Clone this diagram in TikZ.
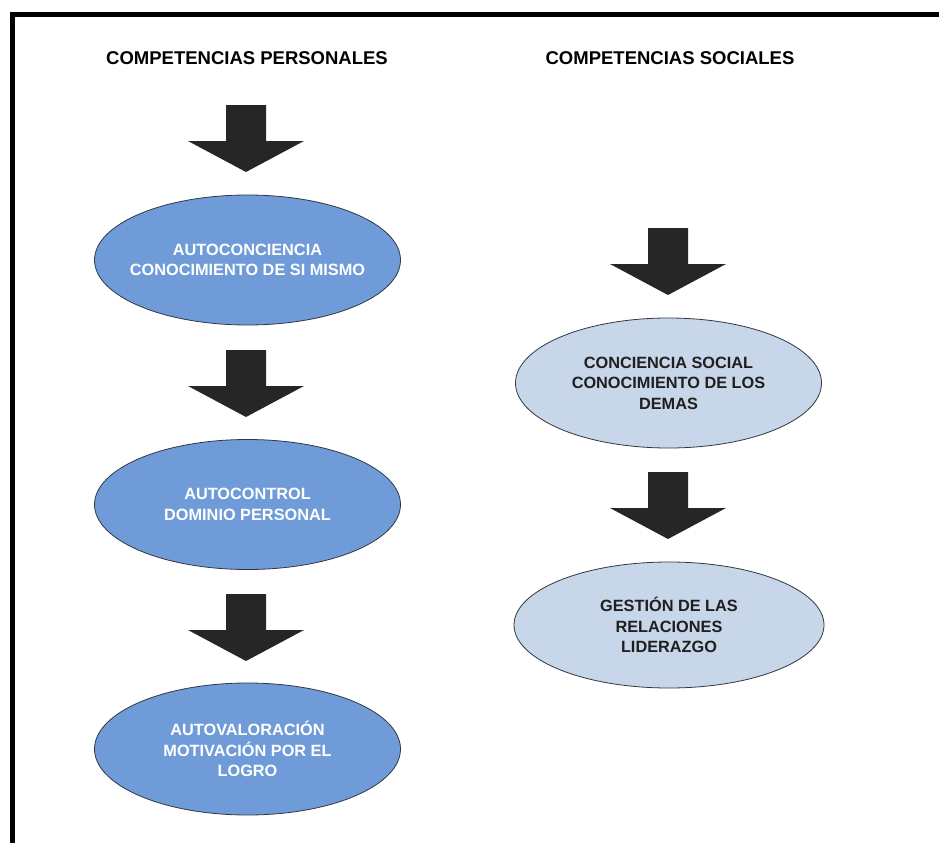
\documentclass[tikz,border=0pt]{standalone}
\usepackage{fontspec}
\setmainfont{Liberation Sans}
\usetikzlibrary{shapes.geometric}
\definecolor{darkblue}{RGB}{111,156,216}
\definecolor{lightblue}{RGB}{199,214,232}
\definecolor{arrowgray}{RGB}{38,38,38}
\definecolor{edgegray}{RGB}{50,55,65}
\tikzset{
  title/.style={font=\bfseries\fontsize{18.5}{21}\selectfont, text=black},
  oval/.style={ellipse, draw=edgegray, line width=0.8pt, minimum width=306pt, minimum height=130pt, inner xsep=-30pt, inner ysep=-20pt, align=center, font=\bfseries\fontsize{16.3}{20.5}\selectfont},
  blueoval/.style={oval, fill=darkblue, text=white},
  paleoval/.style={oval, fill=lightblue, text=black!88},
  blockarrow/.pic={\fill[arrowgray] (-20,0) -- (20,0) -- (20,36) -- (58,36) -- (0,67) -- (-58,36) -- (-20,36) -- cycle;}
}
\begin{document}
\begin{tikzpicture}[x=1pt,y=-1pt]
\useasboundingbox (0,0) rectangle (939,843);
\fill[white] (0,0) rectangle (939,843);
% frame (top and left visible)
\draw[line width=5pt, black] (12.5,843) -- (12.5,14.5) -- (939,14.5);
% titles
\node[title] (tp) at (247,58) {COMPETENCIAS PERSONALES};
\node[title] (ts) at (670,58) {COMPETENCIAS SOCIALES};
% left column
\pic (a1) at (246,105) {blockarrow};
\node[blueoval] (e1) at (247.5,260) {AUTOCONCIENCIA\\CONOCIMIENTO DE SI MISMO};
\pic (a2) at (246,350) {blockarrow};
\node[blueoval] (e2) at (247.5,504.5) {AUTOCONTROL\\DOMINIO PERSONAL};
\pic (a3) at (246,594) {blockarrow};
\node[blueoval, minimum height=132pt] (e3) at (247.5,749) {AUTOVALORACIÓN\\MOTIVACIÓN POR EL\\LOGRO};
% right column
\pic (b1) at (668,228) {blockarrow};
\node[paleoval] (s1) at (668.5,383) {CONCIENCIA SOCIAL\\CONOCIMIENTO DE LOS\\DEMAS};
\pic (b2) at (668,472) {blockarrow};
\node[paleoval, minimum height=126pt, minimum width=310pt] (s2) at (669,625) {GESTIÓN DE LAS\\RELACIONES\\LIDERAZGO};
\end{tikzpicture}
\end{document}
